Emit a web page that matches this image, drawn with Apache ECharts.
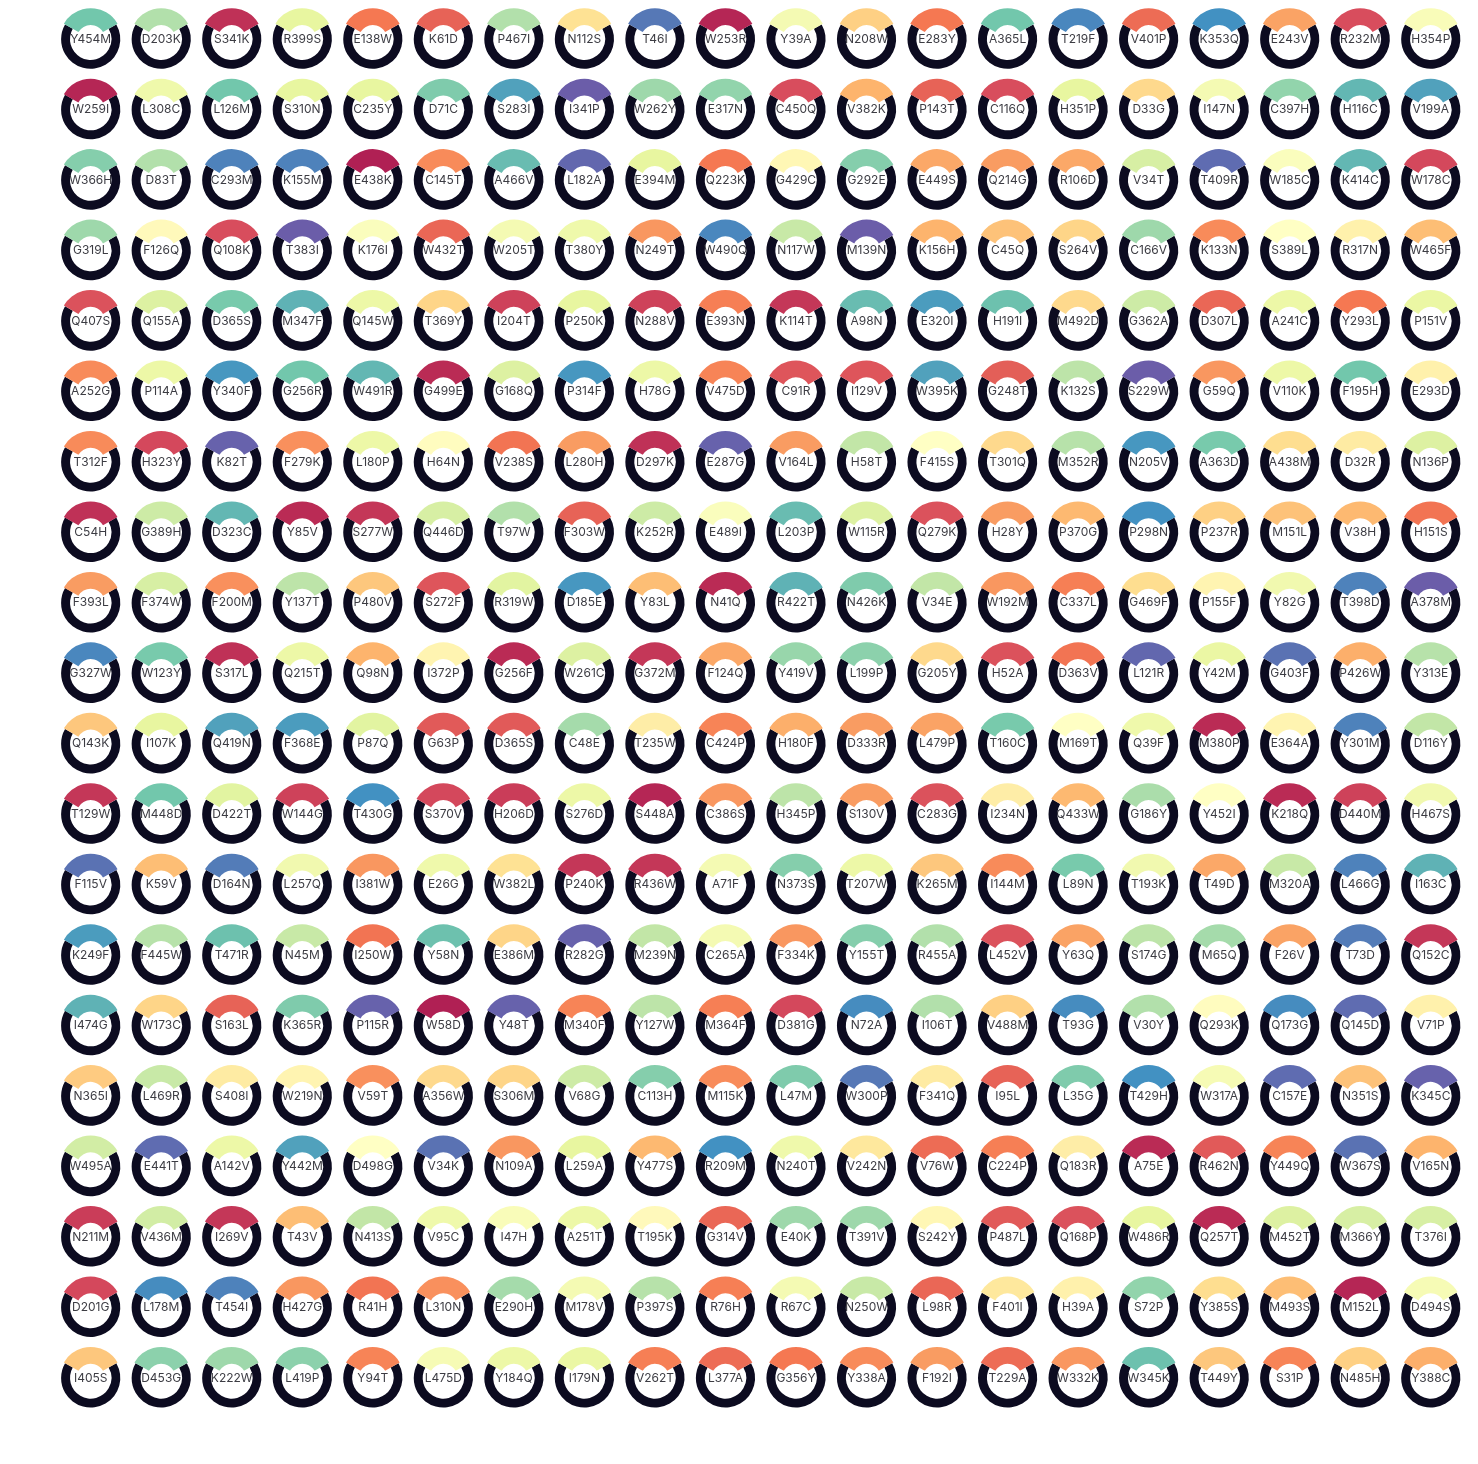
<!DOCTYPE html>
<html>
<head>
<meta charset="utf-8">
<script src="https://cdn.jsdelivr.net/npm/echarts@6/dist/echarts.min.js"></script>
<style>
html,body{margin:0;padding:0;background:#ffffff;}
#chart{width:1478px;height:1464px;}
</style>
</head>
<body>
<div id="chart"></div>
<script>
// ---- data ----
const COLS = 20;
const LABELS = [
'Y454M','D203K','S341K','R399S','E138W','K61D','P467I','N112S','T46I','W253R','Y39A','N208W','E283Y','A365L','T219F','V401P','K353Q','E243V','R232M','H354P',
'W259I','L308C','L126M','S310N','C235Y','D71C','S283I','I341P','W262Y','E317N','C450Q','V382K','P143T','C116Q','H351P','D33G','I147N','C397H','H116C','V199A',
'W366H','D83T','C293M','K155M','E438K','C145T','A466V','L182A','E394M','Q223K','G429C','G292E','E449S','Q214G','R106D','V34T','T409R','W185C','K414C','W178C',
'G319L','F126Q','Q108K','T383I','K176I','W432T','W205T','T380Y','N249T','W490Q','N117W','M139N','K156H','C45Q','S264V','C166V','K133N','S389L','R317N','W465F',
'Q407S','Q155A','D365S','M347F','Q145W','T369Y','I204T','P250K','N288V','E393N','K114T','A98N','E320I','H191I','M492D','G362A','D307L','A241C','Y293L','P151V',
'A252G','P114A','Y340F','G256R','W491R','G499E','G168Q','P314F','H78G','V475D','C91R','I129V','W395K','G248T','K132S','S229W','G59Q','V110K','F195H','E293D',
'T312F','H323Y','K82T','F279K','L180P','H64N','V238S','L280H','D297K','E287G','V164L','H58T','F415S','T301Q','M352R','N205V','A363D','A438M','D32R','N136P',
'C54H','G389H','D323C','Y85V','S277W','Q446D','T97W','F303W','K252R','E489I','L203P','W115R','Q279K','H28Y','P370G','P298N','P237R','M151L','V38H','H151S',
'F393L','F374W','F200M','Y137T','P480V','S272F','R319W','D185E','Y83L','N41Q','R422T','N426K','V34E','W192M','C337L','G469F','P155F','Y82G','T398D','A378M',
'G327W','W123Y','S317L','Q215T','Q98N','I372P','G256F','W261C','G372M','F124Q','Y419V','L199P','G205Y','H52A','D363V','L121R','Y42M','G403F','P426W','Y313E',
'Q143K','I107K','Q419N','F368E','P87Q','G63P','D365S','C48E','T235W','C424P','H180F','D333R','L479P','T160C','M169T','Q39F','M380P','E364A','Y301M','D116Y',
'T129W','M448D','D422T','W144G','T430G','S370V','H206D','S276D','S448A','C386S','H345P','S130V','C283G','I234N','Q433W','G186Y','Y452I','K218Q','D440M','H467S',
'F115V','K59V','D164N','L257Q','I381W','E26G','W382L','P240K','R436W','A71F','N373S','T207W','K265M','I144M','L89N','T193K','T49D','M320A','L466G','I163C',
'K249F','F445W','T471R','N45M','I250W','Y58N','E386M','R282G','M239N','C265A','F334K','Y155T','R455A','L452V','Y63Q','S174G','M65Q','F26V','T73D','Q152C',
'I474G','W173C','S163L','K365R','P115R','W58D','Y48T','M340F','Y127W','M364F','D381G','N72A','I106T','V488M','T93G','V30Y','Q293K','Q173G','Q145D','V71P',
'N365I','L469R','S408I','W219N','V59T','A356W','S306M','V68G','C113H','M115K','L47M','W300P','F341Q','I95L','L35G','T429H','W317A','C157E','N351S','K345C',
'W495A','E441T','A142V','Y442M','D498G','V34K','N109A','L259A','Y477S','R209M','N240T','V242N','V76W','C224P','Q183R','A75E','R462N','Y449Q','W367S','V165N',
'N211M','V436M','I269V','T43V','N413S','V95C','I47H','A251T','T195K','G314V','E40K','T391V','S242Y','P487L','Q168P','W486R','Q257T','M452T','M366Y','T376I',
'D201G','L178M','T454I','H427G','R41H','L310N','E290H','M178V','P397S','R76H','R67C','N250W','L98R','F401I','H39A','S72P','Y385S','M493S','M152L','D494S',
'I405S','D453G','K222W','L419P','Y94T','L475D','Y184Q','I179N','V262T','L377A','G356Y','Y338A','F192I','T229A','W332K','W345K','T449Y','S31P','N485H','Y388C'
];
// score 0..10 (Spectral scale)
const SCORES = [
8,7,0.5,6,2,1.5,7,4,9.5,0.3,5.5,3.6,2,8,9.2,1.7,9,2.7,1,5.3,
0.3,5.7,8,6,6,7.8,8.7,10,7.3,7.5,1,3,1.5,1,6,3.8,5.5,7.5,8.3,8.7,
7.7,7,9.3,9.3,0.2,2.3,8.2,9.8,6,2,4.7,7.7,2.8,2.6,2.8,6.3,9.7,5.2,8.3,0.9,
7.3,4.8,1,10,5.2,1.6,5.5,5.7,2.5,9.2,6.6,10,3,3.3,3.7,7.3,2.3,5,4.5,3.2,
1.1,6.2,7.9,8.4,5.8,3.7,0.8,6,0.8,2.1,0.6,8.2,8.8,8.1,3.8,6.5,1.6,5.8,2,5.9,
2.3,5.8,8.9,8,8.3,0.4,6.2,8.9,5.8,2.2,1.2,1.2,8.7,1.4,6.8,10,2.5,5.8,8,4.5,
2.3,0.9,9.9,2.4,5.8,4.9,1.9,2.6,0.5,9.9,2.6,6.7,5,3.8,6.9,8.9,7.9,3.9,4.3,6.2,
0.5,6.5,8.3,0.4,0.6,6.3,7,1.5,6.5,5.2,8.2,6.2,1.1,2.6,3.1,9,3.6,3.3,3.1,1.9,
2.6,6.3,2.4,6.8,3.4,1.2,6.1,8.9,3.2,0.4,8.4,7.8,6.7,2.5,2.1,3.9,4.6,5.6,9.3,10,
9.2,7.9,0.5,5.8,3,4.6,0.4,6.2,0.6,2.8,7.4,7.6,3.8,1.1,1.9,9.8,5.9,9.6,2.9,6.9,
3.4,6,8.7,8.8,6.1,1.3,1.3,7.2,4.4,2.2,2.9,2.6,2.7,7.9,5,5.7,0.4,4.6,9.3,6.7,
0.6,8,6.1,0.8,9,0.9,0.7,5.8,0.3,2.5,6.8,2.6,1.1,4.4,3.1,7.1,5,0.4,0.8,5.6,
9.6,3.2,9.4,5.6,2.5,5.7,4,0.6,0.6,5.5,7.7,5.8,3.4,2.3,7.9,5.6,2.8,6.6,9.3,8.4,
8.8,6.9,8.1,6.6,1.9,8.1,3.7,9.9,6.7,5.5,2.5,7.7,7,1.1,2.7,6.8,7.2,2.7,9.4,0.6,
8.4,3.7,1.5,7.8,9.9,0.2,9.9,2.2,6.8,2.1,0.9,9.1,7,3.6,9.1,7,4.9,9.1,9.7,4.5,
3.5,6.6,4.3,4.6,2.4,3.8,3.7,6.5,7.7,2.3,7.8,9.5,4.3,1.5,7.8,9,5.4,9.7,3.3,9.9,
6.4,9.7,5.8,8.7,5,9.6,2.5,6,3.1,9,5.7,4.2,1.7,2.1,4.4,0.4,1.3,2.2,9.6,3,
0.7,6.4,0.6,3.2,6.7,5.7,5.3,5.8,4.8,1.6,7.3,7.3,4.7,1.3,1.1,6,0.4,6.2,6.3,6.3,
0.9,9.1,9.3,2.5,1.9,2.4,7.2,5.5,6.9,2.1,5.5,6.6,1.6,4.2,4.5,7.5,3.9,3.2,0.3,5.4,
3.4,7.6,7.3,7.6,2.2,5.4,5.8,5.9,2.1,1.7,2,2.3,2.6,1.7,2.5,8.1,3.4,2.2,3.6,2.9
];
// share of the ring taken by the coloured arc vs the dark rest
const ARC_PARTS = [1, 2];
const SPECTRAL = ['#9e0142','#d53e4f','#f46d43','#fdae61','#fee08b','#ffffbf','#e6f598','#abdda4','#66c2a5','#3288bd','#5e4fa2'];

// ---- styling / layout ----
const RING_COLOR = '#0c0b20';
const LABEL_COLOR = '#2b2b33';
const X0 = 90.7, Y0 = 39.2, STEP_X = 70.53, STEP_Y = 70.46;
const DARK_RADIUS = [20.7, 29.6];
const ARC_RADIUS = [14.2, 31.0];

function hex2rgb(h){ return [parseInt(h.slice(1,3),16),parseInt(h.slice(3,5),16),parseInt(h.slice(5,7),16)]; }
function spectral(s){
  const t = Math.max(0, Math.min(10, s));
  const i = Math.min(9, Math.floor(t));
  const f = t - i;
  const a = hex2rgb(SPECTRAL[i]), b = hex2rgb(SPECTRAL[i+1]);
  const c = a.map((v,k)=>Math.round(v + (b[k]-v)*f));
  return 'rgb(' + c.join(',') + ')';
}

const series = [];
LABELS.forEach((name, idx) => {
  const col = idx % COLS, row = Math.floor(idx / COLS);
  const center = [X0 + col*STEP_X, Y0 + row*STEP_Y];
  const total = ARC_PARTS[0] + ARC_PARTS[1];
  const startDark = 90 - 180*ARC_PARTS[0]/total; // right end of the coloured arc
  const startArc = 90 + 180*ARC_PARTS[0]/total;
  // dark part of the ring
  series.push({
    type: 'pie', center: center, radius: DARK_RADIUS, startAngle: startDark, clockwise: true,
    silent: true, animation: false, avoidLabelOverlap: false,
    label: {show: false}, labelLine: {show: false},
    emphasis: {disabled: true},
    data: [
      {name: name + '-rest', value: ARC_PARTS[1], itemStyle: {color: RING_COLOR}},
      {name: name + '-gap', value: ARC_PARTS[0], itemStyle: {color: 'rgba(0,0,0,0)'}}
    ]
  });
  // coloured arc + centre label
  series.push({
    type: 'pie', center: center, radius: ARC_RADIUS, startAngle: startArc, clockwise: true,
    silent: true, animation: false, avoidLabelOverlap: false,
    emphasis: {disabled: true},
    label: {
      show: true, position: 'center',
      formatter: p => p.dataIndex === 0 ? name : '',
      fontSize: 12, color: LABEL_COLOR, fontFamily: 'Inter, "Noto Sans", sans-serif',
      padding: [4, 0, 0, 0]
    },
    labelLine: {show: false},
    data: [
      {name: name, value: ARC_PARTS[0], itemStyle: {color: spectral(SCORES[idx]), opacity: 0.92}},
      {name: name + '-rest2', value: ARC_PARTS[1], itemStyle: {color: 'rgba(0,0,0,0)'}}
    ]
  });
});

const chart = echarts.init(document.getElementById('chart'), null, {renderer: 'canvas'});
chart.setOption({
  backgroundColor: '#ffffff',
  animation: false,
  series: series
});
</script>
</body>
</html>
